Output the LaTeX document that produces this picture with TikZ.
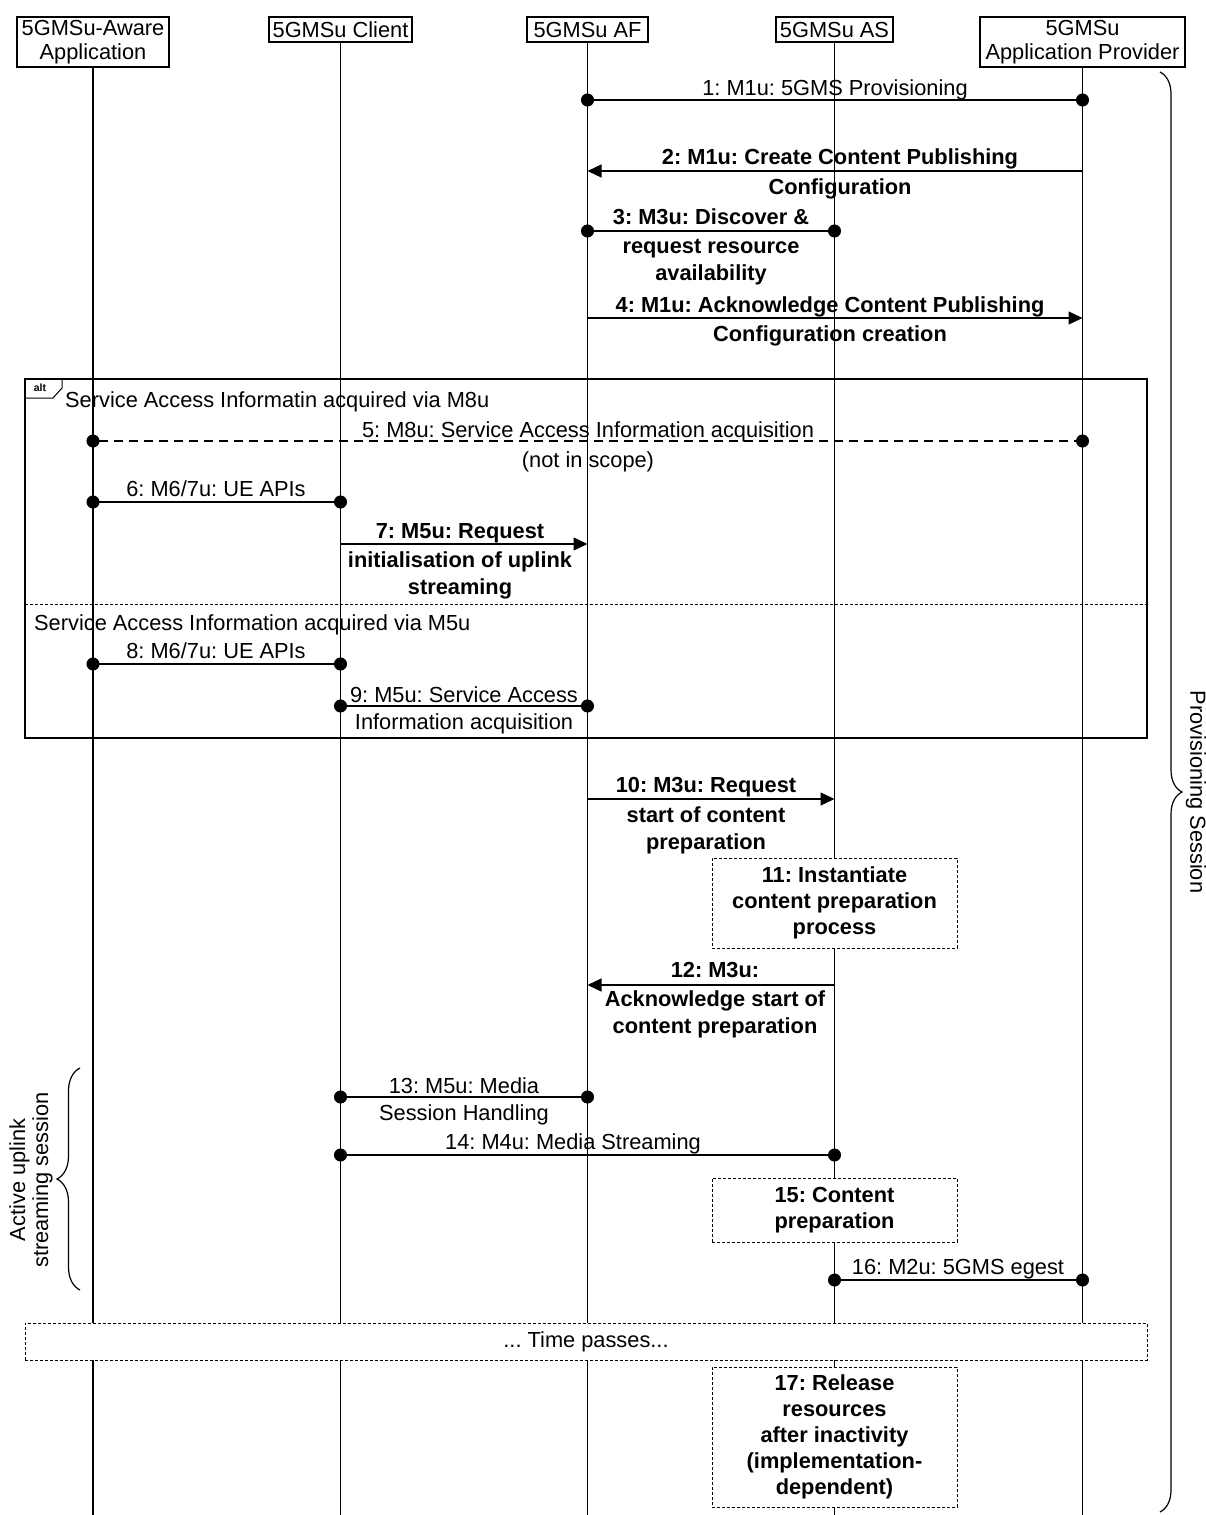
\documentclass[tikz,border=0pt]{standalone}
\usepackage{fontspec}
\setmainfont{Liberation Sans}
\usetikzlibrary{arrows.meta,decorations.pathreplacing,calc}
\frenchspacing
\begin{document}
\begin{tikzpicture}[x=1pt,y=-1pt,
  every node/.style={font=\fontsize{21.8}{27}\selectfont, inner sep=0pt},
  head/.style={draw, line width=1.2pt, fill=white, align=center, font=\fontsize{21.8}{24}\selectfont},
  life/.style={line width=1.1pt},
  msg/.style={line width=1.4pt},
  dots/.style={msg, {Circle[length=13pt]}-{Circle[length=13pt]}, shorten <=-6.5pt, shorten >=-6.5pt},
  dashmsg/.style={dots, dash pattern=on 9pt off 6pt},
  arr/.style={msg, -{Triangle[length=14pt,width=13pt]}},
  lbl/.style={align=center, anchor=base},
  blbl/.style={lbl, font=\fontsize{21.8}{27}\selectfont\bfseries},
  act/.style={draw, dash pattern=on 3pt off 2pt, line width=1pt, fill=white, align=center, font=\fontsize{21.8}{26}\selectfont\bfseries},
  frame/.style={line width=1.2pt},
  brc/.style={decorate, line width=1.2pt},
]
\useasboundingbox (0,0) rectangle (1206,1515);
\fill[white] (0,0) rectangle (1206,1515);

% headers
\node[head, minimum width=152pt, minimum height=50pt] (A) at (93,42) {5GMSu-Aware\\Application};
\node[head, minimum width=143pt, minimum height=25pt] (B) at (340.5,29.5) {5GMSu Client};
\node[head, minimum width=121pt, minimum height=25pt] (AF) at (587.5,29.5) {5GMSu AF};
\node[head, minimum width=117pt, minimum height=25pt] (AS) at (834.5,29.5) {5GMSu AS};
\node[head, minimum width=205pt, minimum height=50pt] (AP) at (1082.5,42) {5GMSu\\Application Provider};

% lifelines
\foreach \n in {A,B,AF,AS,AP} \draw[life] (\n.south) -- (\n.south |- 0,1515);

% 1
\draw[dots] (AF |- 0,100) -- (AP |- 0,100);
\node[lbl] (l1) at (835,95) {1: M1u: 5GMS Provisioning};
% 2
\draw[arr] (AP |- 0,171) -- (AF |- 0,171);
\node[blbl] (l2) at (840,194) {2: M1u: Create Content Publishing\\[3pt]Configuration};
% 3
\draw[dots] (AF |- 0,231) -- (AS |- 0,231);
\node[blbl] (l3) at (711,280) {3: M3u: Discover \&\\[2pt]request resource\\availability};
% 4
\draw[arr] (AF |- 0,318) -- (AP |- 0,318);
\node[blbl] (l4) at (830,341) {4: M1u: Acknowledge Content Publishing\\[2pt]Configuration creation};

% alt frame
\draw[frame] (25,379) rectangle (1147,738);
\draw[line width=1pt] (25,379) -- (62,379) -- (62,388) -- (53,398) -- (25,398);
\node[font=\fontsize{10.5}{12}\selectfont\bfseries] (alt) at (40,388) {alt};
\node[anchor=base west] (t1) at (65,407) {Service Access Informatin acquired via M8u};
\draw[line width=1pt, dash pattern=on 3pt off 2pt] (25,604) -- (1147,604);
\node[anchor=base west] (t2) at (34,630) {Service Access Information acquired via M5u};

% 5
\draw[dashmsg] (A |- 0,441) -- (AP |- 0,441);
\node[lbl] (l5) at (588,467) {5: M8u: Service Access Information acquisition\\[3pt](not in scope)};
% 6
\draw[dots] (A |- 0,502) -- (B |- 0,502);
\node[lbl] (l6) at (216,496) {6: M6/7u: UE APIs};
% 7
\draw[arr] (B |- 0,544) -- (AF |- 0,544);
\node[blbl] (l7) at (460,594) {7: M5u: Request\\[2pt]initialisation of uplink\\streaming};
% 8
\draw[dots] (A |- 0,664) -- (B |- 0,664);
\node[lbl] (l8) at (216,658) {8: M6/7u: UE APIs};
% 9
\draw[dots] (B |- 0,706) -- (AF |- 0,706);
\node[lbl] (l9) at (464,729) {9: M5u: Service Access\\Information acquisition};

% 10
\draw[arr] (AF |- 0,799) -- (AS |- 0,799);
\node[blbl] (l10) at (706,849) {10: M3u: Request\\[3pt]start of content\\preparation};
% 11
\node[act, minimum width=245pt, minimum height=90pt] (b11) at (834.5,903) {11: Instantiate\\content preparation\\process};
% 12
\draw[arr] (AS |- 0,985) -- (AF |- 0,985);
\node[blbl] (l12) at (715,1033) {12: M3u:\\[2pt]Acknowledge start of\\content preparation};
% 13
\draw[dots] (B |- 0,1097) -- (AF |- 0,1097);
\node[lbl] (l13) at (464,1120) {13: M5u: Media\\Session Handling};
% 14
\draw[dots] (B |- 0,1155) -- (AS |- 0,1155);
\node[lbl] (l14) at (573,1149) {14: M4u: Media Streaming};
% 15
\node[act, minimum width=245pt, minimum height=64pt] (b15) at (834.5,1210) {15: Content\\preparation};
% 16
\draw[dots] (AS |- 0,1280) -- (AP |- 0,1280);
\node[lbl] (l16) at (958,1274) {16: M2u: 5GMS egest};

% time passes
\node[draw, dash pattern=on 3pt off 2pt, line width=1pt, fill=white, minimum width=1122pt, minimum height=37pt] (tp) at (586,1341.5) {... Time passes...};
% 17
\node[act, minimum width=245pt, minimum height=140pt] (b17) at (834.5,1437) {17: Release\\resources\\after inactivity\\(implementation-\\dependent)};

% braces
\draw[brc, decoration={brace, amplitude=22pt}] (1160,72) -- (1160,1512);
\node[rotate=-90] (ps) at (1196,792) {Provisioning Session};
\draw[brc, decoration={brace, amplitude=23pt}] (80,1290) -- (80,1068);
\node[rotate=90, align=center, font=\fontsize{21.8}{23}\selectfont] (us) at (31,1180) {Active uplink\\streaming session};
\end{tikzpicture}
\end{document}
